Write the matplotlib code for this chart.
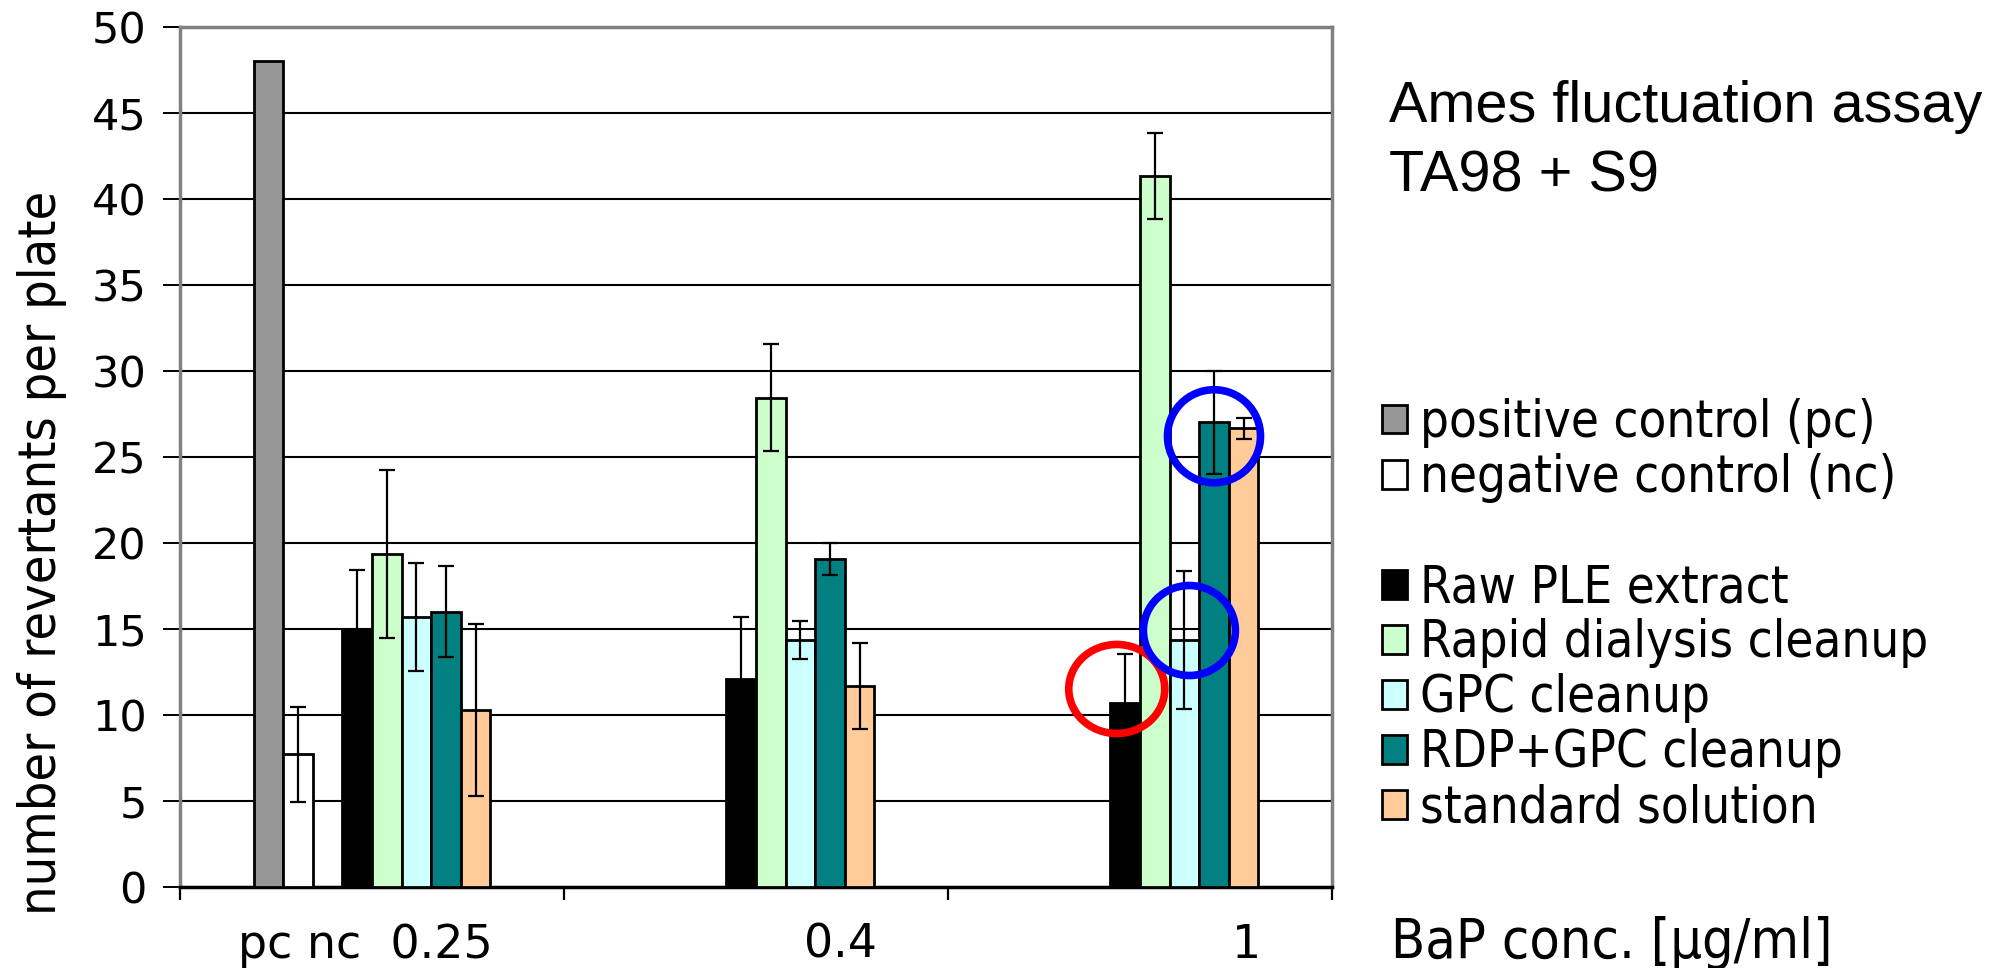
import matplotlib
matplotlib.use("Agg")
import matplotlib.pyplot as plt
from matplotlib.patches import Ellipse, Patch
from matplotlib.transforms import blended_transform_factory
from matplotlib import font_manager
from matplotlib.font_manager import FontProperties
import numpy as np

# ---------------- data ----------------
groups = ["pc nc  0.25", "0.4", "1"]
y_ticks = [0, 5, 10, 15, 20, 25, 30, 35, 40, 45, 50]

pc_value = 48.0
nc_value = 7.7
nc_err = 2.75

series_names = ["Raw PLE extract", "Rapid dialysis cleanup", "GPC cleanup",
                "RDP+GPC cleanup", "standard solution"]
raw_vals = [15.0, 12.1, 10.7]
raw_err = [3.4, 3.6, 2.85]
rapid_vals = [19.35, 28.45, 41.35]
rapid_err = [4.9, 3.1, 2.5]
gpc_vals = [15.7, 14.35, 14.35]
gpc_err = [3.15, 1.1, 4.0]
rdp_vals = [16.0, 19.05, 27.0]
rdp_err = [2.65, 0.95, 3.0]
std_vals = [10.3, 11.7, 26.65]
std_err = [5.0, 2.5, 0.6]

series_vals = [raw_vals, rapid_vals, gpc_vals, rdp_vals, std_vals]
series_errs = [raw_err, rapid_err, gpc_err, rdp_err, std_err]
series_colors = ["#000000", "#CCFFCC", "#CCFFFF", "#008080", "#FFCC99"]

# ---------------- fonts ----------------
entries = font_manager.fontManager.ttflist
have_narrow = any(f.name == "Liberation Sans Narrow" for f in entries)
have_cond = any(f.name == "DejaVu Sans" and f.stretch == "condensed" for f in entries)

if have_narrow:
    title_fp = FontProperties(family="Liberation Sans Narrow", size=50)
else:
    title_fp = FontProperties(family="Liberation Sans", size=41.5)

def side_font(size):
    # Tahoma-like text: use condensed DejaVu if available
    if have_cond:
        return FontProperties(family="DejaVu Sans", stretch="condensed", size=size / 0.9)
    return FontProperties(family="DejaVu Sans", size=size)

# ---------------- figure ----------------
W, H = 2011, 968
fig = plt.figure(figsize=(W / 100, H / 100), dpi=100)
ax_left, ax_right, ax_top, ax_bot = 180, 1332, 27, 886.7
ax = fig.add_axes([ax_left / W, 1 - ax_bot / H, (ax_right - ax_left) / W, (ax_bot - ax_top) / H])

n_slots = 8
bw = 1.0 / (384 / 29.6)
xg = np.arange(len(groups))

def slot_x(i, k):
    return i + (k - (n_slots - 1) / 2) * bw

edge_lw = 2.0
err_kw = dict(fmt="none", ecolor="black", elinewidth=1.6, capsize=5.5, capthick=1.6, zorder=4)

# controls in first group
ax.bar(slot_x(0, 0), pc_value, width=bw, color="#969696", edgecolor="black", linewidth=edge_lw, zorder=3,
       label="positive control (pc)")
ax.bar(slot_x(0, 1), nc_value, width=bw, color="white", edgecolor="black", linewidth=edge_lw, zorder=3,
       label="negative control (nc)")
ax.errorbar(slot_x(0, 1), nc_value, yerr=nc_err, **err_kw)

for s, (vals, errs, col, name) in enumerate(zip(series_vals, series_errs, series_colors, series_names)):
    xs = [slot_x(i, 3 + s) for i in xg]
    ax.bar(xs, vals, width=bw, color=col, edgecolor="black", linewidth=edge_lw, zorder=3, label=name)
    ax.errorbar(xs, vals, yerr=errs, **err_kw)

# highlight ellipses (around bars of the 1 µg/ml group)
def add_ellipse(vals, s, dx, dy, wpx, hpx, color):
    ppu = (ax_bot - ax_top) / 50.0
    e = Ellipse((slot_x(2, 3 + s) + dx, vals[2] + dy), wpx / 384, hpx / ppu,
                fill=False, edgecolor=color, linewidth=5.5, zorder=6, clip_on=False)
    ax.add_patch(e)

add_ellipse(raw_vals, 0, -0.022, 0.8, 96, 89, "#FF0000")
add_ellipse(gpc_vals, 2, 0.013, 0.55, 92, 90, "#0000FF")
add_ellipse(rdp_vals, 3, 0.0, -0.8, 93, 93, "#0000FF")

# axes styling
ax.set_xlim(-0.5, len(groups) - 0.5)
ax.set_ylim(0, 50)
ax.set_yticks(y_ticks)
ax.set_yticklabels([str(v) for v in y_ticks], fontsize=31, family="DejaVu Sans")
ax.set_xticks(np.arange(len(groups) + 1) - 0.5)
ax.set_xticklabels([])
ax.tick_params(axis="y", direction="out", length=12, width=1.4, pad=12, colors="black")
ax.tick_params(axis="x", direction="out", length=9, width=1.6)
ax.yaxis.grid(True, color="black", linewidth=1.5, zorder=0)
ax.set_axisbelow(True)
for side in ["top", "right", "left"]:
    ax.spines[side].set_color("#808080")
    ax.spines[side].set_linewidth(2.5)
ax.spines["bottom"].set_color("black")
ax.spines["bottom"].set_linewidth(2.5)

# category labels
tr = blended_transform_factory(ax.transData, fig.transFigure)
for i, g in enumerate(groups):
    ax.text(i + 0.315, 1 - 958 / H, g, transform=tr, ha="right", va="baseline",
            fontsize=33, family="DejaVu Sans")

fig.text(42 / W, 1 - 553 / H, "number of revertants per plate", rotation=90, ha="center", va="center",
         fontproperties=side_font(33.6))
fig.text(1391 / W, 1 - 958 / H, "BaP conc. [µg/ml]", ha="left", va="baseline",
         fontproperties=side_font(36))

fig.text(1389 / W, 1 - 122 / H, "Ames fluctuation assay", ha="left", va="baseline", fontproperties=title_fp)
fig.text(1389 / W, 1 - 192 / H, "TA98 + S9", ha="left", va="baseline", fontproperties=title_fp)

# legend
handles, labels = ax.get_legend_handles_labels()
blank = Patch(facecolor="none", edgecolor="none")
handles = handles[:2] + [blank] + handles[2:]
labels = labels[:2] + [" "] + labels[2:]
leg_fp = side_font(32.9)
fig.legend(handles, labels, loc="upper left", bbox_to_anchor=(1382 / W, 1 - 398 / H),
           frameon=False, handlelength=0.5, handleheight=0.5, handletextpad=0.25,
           labelspacing=0.1, borderaxespad=0, borderpad=0, prop=leg_fp)

fig.savefig("out.png", dpi=100)
